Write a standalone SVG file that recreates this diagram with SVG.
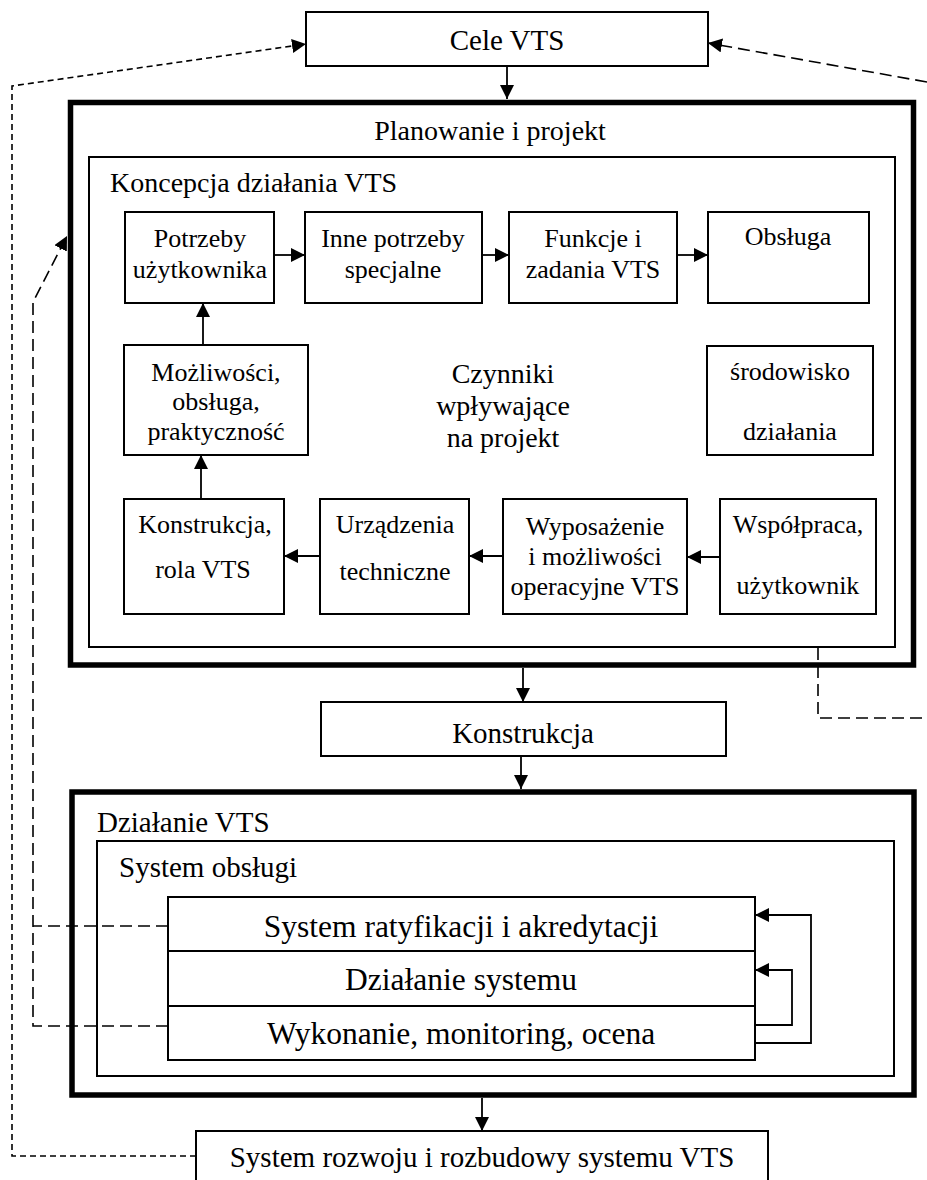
<svg xmlns="http://www.w3.org/2000/svg" width="927" height="1180" viewBox="0 0 927 1180" font-family="'Liberation Serif', 'DejaVu Serif', serif">
  <style>
    text { font-family: 'Liberation Serif', 'DejaVu Serif', serif; fill: #000; }
    .c { text-anchor: middle; }
    .s26 { font-size: 26px; }
    .s28 { font-size: 28px; }
    .s29 { font-size: 29px; }
    .s32 { font-size: 31.5px; }
    .box { fill: #fff; stroke: #000; stroke-width: 2; }
    .frame { fill: none; stroke: #000; stroke-width: 2; }
    .heavy { fill: none; stroke: #000; stroke-width: 5.5; }
    .link { fill: none; stroke: #000; stroke-width: 1.8; }
    .fine { fill: none; stroke: #000; stroke-width: 1.6; stroke-dasharray: 6 4; }
    .long { fill: none; stroke: #000; stroke-width: 1.6; stroke-dasharray: 12 6; }
  </style>
  <defs>
    <marker id="head" markerUnits="userSpaceOnUse" markerWidth="14" markerHeight="14" refX="14" refY="7" orient="auto">
      <path d="M0,0 L14,7 L0,14 Z" fill="#000" stroke="none"/>
    </marker>
  </defs>

  <rect width="927" height="1180" fill="#fff"/>

  <!-- top goal box -->
  <g id="cele">
    <rect class="box" x="306" y="12" width="402" height="54"/>
    <text class="c s29" x="507" y="50">Cele VTS</text>
  </g>

  <!-- planning frame -->
  <g id="planowanie">
    <rect class="heavy" x="70.5" y="102.5" width="843" height="562.5"/>
    <text class="c s28" x="490" y="140">Planowanie i projekt</text>
  </g>

  <g id="koncepcja">
    <rect class="frame" x="89" y="157" width="806" height="490"/>
    <text class="s28" x="110" y="192">Koncepcja działania VTS</text>
  </g>

  <g id="potrzeby">
    <rect class="box" x="125" y="212" width="149" height="91"/>
    <text class="c s26" x="200" y="247">Potrzeby</text>
    <text class="c s26" x="200" y="278">użytkownika</text>
  </g>

  <g id="inne">
    <rect class="box" x="305" y="212" width="177" height="91"/>
    <text class="c s26" x="393" y="247">Inne potrzeby</text>
    <text class="c s26" x="393" y="278">specjalne</text>
  </g>

  <g id="funkcje">
    <rect class="box" x="509" y="212" width="168" height="91"/>
    <text class="c s26" x="593" y="247">Funkcje i</text>
    <text class="c s26" x="593" y="278">zadania VTS</text>
  </g>

  <g id="obsluga">
    <rect class="box" x="708" y="212" width="161" height="91"/>
    <text class="c s26" x="788" y="245">Obsługa</text>
  </g>

  <g id="mozliwosci">
    <rect class="box" x="124" y="345" width="184" height="110"/>
    <text class="c s26" x="216" y="381">Możliwości,</text>
    <text class="c s26" x="216" y="410">obsługa,</text>
    <text class="c s26" x="216" y="440">praktyczność</text>
  </g>

  <g id="czynniki">
    <text class="c s28" x="503" y="383">Czynniki</text>
    <text class="c s28" x="503" y="415">wpływające</text>
    <text class="c s28" x="503" y="447">na projekt</text>
  </g>

  <g id="srodowisko">
    <rect class="box" x="707" y="346" width="166" height="109"/>
    <text class="c s26" x="790" y="380">środowisko</text>
    <text class="c s26" x="790" y="440">działania</text>
  </g>

  <g id="konstrukcja-rola">
    <rect class="box" x="124" y="499" width="160" height="115"/>
    <text class="c s26" x="205" y="533">Konstrukcja,</text>
    <text class="c s26" x="203" y="578">rola VTS</text>
  </g>

  <g id="urzadzenia">
    <rect class="box" x="320" y="499" width="149" height="115"/>
    <text class="c s26" x="395" y="533">Urządzenia</text>
    <text class="c s26" x="395" y="580">techniczne</text>
  </g>

  <g id="wyposazenie">
    <rect class="box" x="503" y="499" width="184" height="115"/>
    <text class="c s26" x="595" y="535">Wyposażenie</text>
    <text class="c s26" x="595" y="565">i możliwości</text>
    <text class="c s26" x="595" y="595">operacyjne VTS</text>
  </g>

  <g id="wspolpraca">
    <rect class="box" x="720" y="499" width="156" height="115"/>
    <text class="c s26" x="798" y="533">Współpraca,</text>
    <text class="c s26" x="798" y="594">użytkownik</text>
  </g>

  <!-- construction stage -->
  <g id="konstrukcja">
    <rect class="box" x="321" y="702" width="405" height="54"/>
    <text class="c s29" x="523" y="743">Konstrukcja</text>
  </g>

  <!-- operation frame -->
  <g id="dzialanie-vts">
    <rect class="heavy" x="72" y="792" width="842" height="303"/>
    <text class="s29" x="97" y="832">Działanie VTS</text>
  </g>

  <g id="system-obslugi">
    <rect class="frame" x="97" y="841" width="797" height="235"/>
    <text class="s29" x="119" y="877">System obsługi</text>
  </g>

  <g id="ratyfikacja">
    <rect class="box" x="168" y="897" width="587" height="54"/>
    <text class="c s32" x="461" y="937">System ratyfikacji i akredytacji</text>
  </g>

  <g id="dzialanie-systemu">
    <rect class="box" x="168" y="951" width="587" height="55"/>
    <text class="c s32" x="461" y="990">Działanie systemu</text>
  </g>

  <g id="wykonanie">
    <rect class="box" x="168" y="1006" width="587" height="54"/>
    <text class="c s32" x="461" y="1044">Wykonanie, monitoring, ocena</text>
  </g>

  <g id="rozwoj">
    <rect class="box" x="196" y="1131" width="572" height="60"/>
    <text class="c s29" x="482" y="1167">System rozwoju i rozbudowy systemu VTS</text>
  </g>

  <!-- connectors -->
  <g id="connectors">
    <!-- main flow -->
    <path class="link" d="M507,66 V99" marker-end="url(#head)"/>
    <path class="link" d="M523,668 V702" marker-end="url(#head)"/>
    <path class="link" d="M521,756 V789" marker-end="url(#head)"/>
    <path class="link" d="M482,1098 V1131" marker-end="url(#head)"/>

    <!-- concept loop -->
    <path class="link" d="M274,255 H305" marker-end="url(#head)"/>
    <path class="link" d="M482,255 H509" marker-end="url(#head)"/>
    <path class="link" d="M677,255 H708" marker-end="url(#head)"/>
    <path class="link" d="M203,345 V303" marker-end="url(#head)"/>
    <path class="link" d="M201,499 V455" marker-end="url(#head)"/>
    <path class="link" d="M320,556 H284" marker-end="url(#head)"/>
    <path class="link" d="M503,556 H469" marker-end="url(#head)"/>
    <path class="link" d="M720,557 H687" marker-end="url(#head)"/>

    <!-- operating feedback -->
    <path class="link" d="M755,1043 H811 V915 H755" marker-end="url(#head)"/>
    <path class="link" d="M755,1025 H792 V970 H755" marker-end="url(#head)"/>

    <!-- feedback to goals -->
    <path class="fine" d="M196,1156 H12 V86 L306,44" marker-end="url(#head)"/>
    <path class="long" d="M927,82 L708,43" marker-end="url(#head)"/>
    <path class="long" d="M818,648 V718 H927"/>

    <!-- feedback to planning -->
    <path class="long" d="M168,1026 H33 V302 L67,236" marker-end="url(#head)"/>
    <path class="long" d="M168,926 H33"/>
  </g>
</svg>
